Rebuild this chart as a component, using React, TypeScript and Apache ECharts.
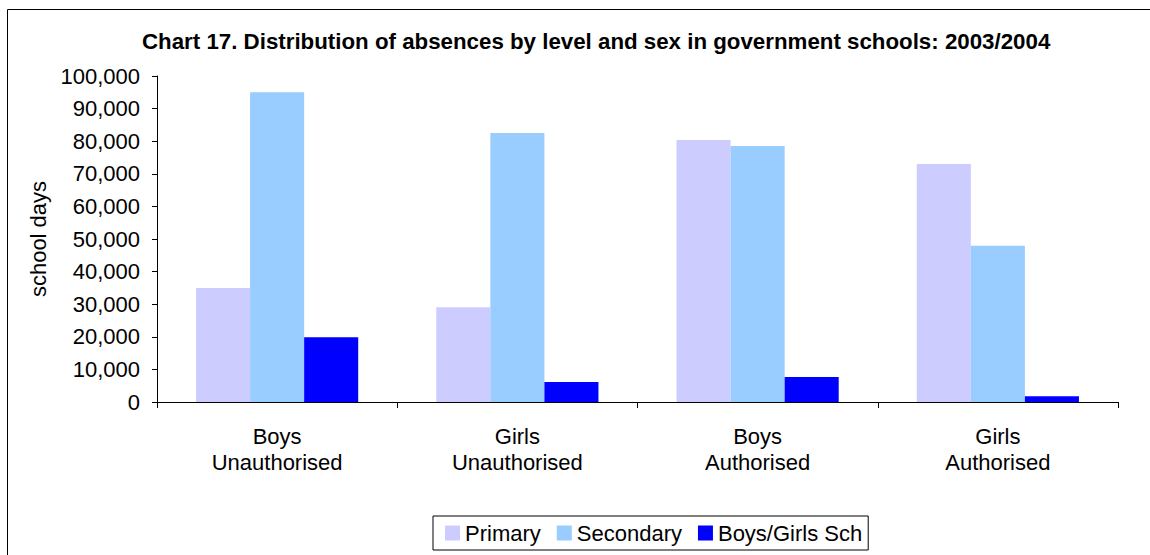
import React, { useEffect, useRef } from "react";
import * as echarts from "echarts";

const categories = ["Boys\nUnauthorised", "Girls\nUnauthorised", "Boys\nAuthorised", "Girls\nAuthorised"];
const seriesNames = ["Primary", "Secondary", "Boys/Girls Sch"];
const primary = [35000, 29100, 80400, 73000];
const secondary = [95000, 82500, 78500, 47900];
const boysGirls = [19900, 6100, 7700, 1800];
const colors = ["#CCCCFF", "#99CCFF", "#0000FF"];
const titleText = "Chart 17. Distribution of absences by level and sex in government schools: 2003/2004";
const yName = "school days";

const FONT = "'Liberation Sans', Arial, sans-serif";

export default function App() {
  const ref = useRef<HTMLDivElement>(null);
  useEffect(() => {
    if (!ref.current) return;
    const chart = echarts.init(ref.current, null, { renderer: "svg" });
    const data = [primary, secondary, boysGirls];
    chart.setOption({
      animation: false,
      backgroundColor: "#fff",
      textStyle: { fontFamily: FONT },
      title: {
        text: titleText,
        left: 142,
        top: 30,
        padding: 0,
        textStyle: { fontFamily: FONT, fontSize: 22.3, fontWeight: "bold", color: "#000" },
      },
      graphic: [
        {
          type: "rect",
          shape: { x: 7.5, y: 9.5, width: 1300, height: 700 },
          style: { fill: "none", stroke: "#000", lineWidth: 1 },
          silent: true,
        },
      ],
      legend: {
        left: 433,
        top: 516,
        orient: "horizontal",
        padding: [6, 6, 6, 12],
        itemGap: 16,
        itemWidth: 15,
        itemHeight: 15,
        borderColor: "#000",
        borderWidth: 1,
        icon: "rect",
        textStyle: { fontFamily: FONT, fontSize: 22, color: "#000" },
        data: seriesNames,
      },
      grid: { left: 157, right: 32, top: 76, bottom: 153, containLabel: false },
      xAxis: {
        type: "category",
        data: categories,
        axisLine: { lineStyle: { color: "#000", width: 1 } },
        axisTick: { show: true, alignWithLabel: false, length: 6, lineStyle: { color: "#000" } },
        axisLabel: {
          fontFamily: FONT,
          fontSize: 22,
          color: "#000",
          margin: 21,
          lineHeight: 26,
          interval: 0,
        },
      },
      yAxis: {
        type: "value",
        min: 0,
        max: 100000,
        interval: 10000,
        name: yName,
        nameLocation: "middle",
        nameGap: 108,
        nameRotate: 90,
        nameTextStyle: { fontFamily: FONT, fontSize: 22, color: "#000" },
        splitLine: { show: false },
        axisLine: { show: true, lineStyle: { color: "#000", width: 1 } },
        axisTick: { show: true, length: 5, lineStyle: { color: "#000" } },
        axisLabel: {
          fontFamily: FONT,
          fontSize: 22,
          color: "#000",
          margin: 17,
          formatter: (v: number) => v.toLocaleString("en-US"),
        },
      },
      series: seriesNames.map((n, i) => ({
        name: n,
        type: "bar",
        data: data[i],
        barGap: "0%",
        barCategoryGap: "32.5%",
        itemStyle: { color: colors[i] },
      })),
    });
    return () => chart.dispose();
  }, []);
  return (
    <div
      ref={ref}
      style={{ position: "fixed", left: 0, top: 0, width: 1150, height: 555, background: "#fff" }}
    />
  );
}
